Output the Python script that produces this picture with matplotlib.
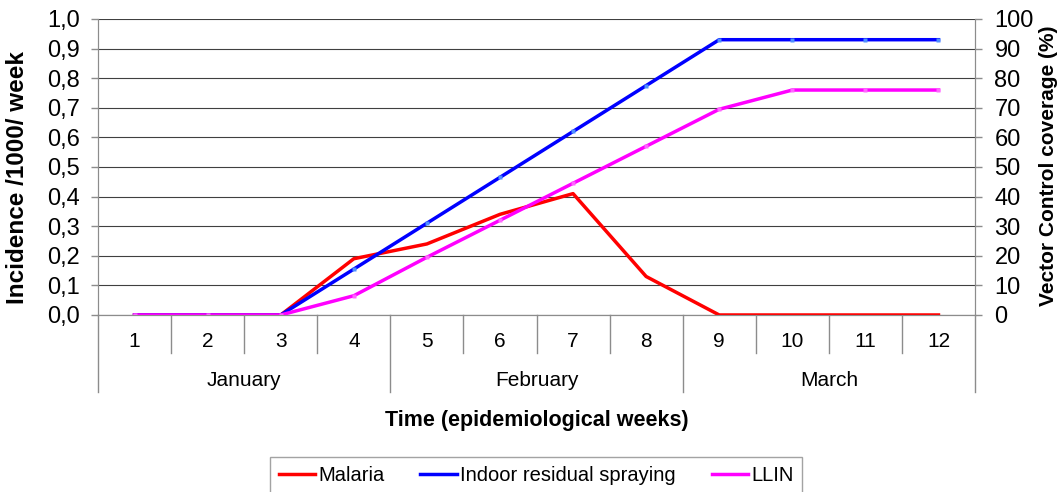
import matplotlib
matplotlib.use("Agg")
import matplotlib.pyplot as plt
from matplotlib.ticker import FuncFormatter, MultipleLocator

plt.rcParams['font.family'] = ['Liberation Sans', 'DejaVu Sans']

weeks = [1, 2, 3, 4, 5, 6, 7, 8, 9, 10, 11, 12]
week_labels = [str(w) for w in weeks]
months = ['January', 'February', 'March']
month_centers = [2.5, 6.5, 10.5]
month_edges = [0.5, 4.5, 8.5, 12.5]

malaria = [0, 0, 0, 0.19, 0.24, 0.34, 0.41, 0.13, 0, 0, 0, 0]          # incidence /1000/week
irs = [0, 0, 0, 15.5, 31, 46.5, 62, 77.5, 93, 93, 93, 93]              # coverage %
llin = [0, 0, 0, 6.5, 19.5, 32, 44.5, 57, 69.5, 76, 76, 76]            # coverage %

fig = plt.figure(figsize=(10.62, 4.92), dpi=100)
ax = fig.add_axes([0.0923, 0.3598, 0.8258, 0.6016])
ax2 = ax.twinx()

gray = '#8c8c8c'

ax.set_xlim(0.5, 12.5)
ax.set_ylim(0, 1.0)
ax2.set_ylim(0, 100)
ax.yaxis.set_major_locator(MultipleLocator(0.1))
ax2.yaxis.set_major_locator(MultipleLocator(10))
ax.yaxis.set_major_formatter(FuncFormatter(lambda v, p: ('%.1f' % v).replace('.', ',')))

ax.grid(axis='y', color='#404040', linewidth=0.8)
ax.set_axisbelow(True)
ax.yaxis.get_gridlines()[-1].set_visible(False)

for a in (ax, ax2):
    a.spines['top'].set_visible(False)
    for s in ('left', 'right', 'bottom'):
        a.spines[s].set_color(gray)
    a.set_xticks([])
ax.tick_params(axis='y', colors=gray, labelcolor='black', labelsize=17, length=5, width=1, pad=8)
ax2.tick_params(axis='y', colors=gray, labelcolor='black', labelsize=17, length=5, width=1, pad=9)

# line series
ax.plot(weeks, malaria, color='#ff0000', linewidth=2.5, zorder=5)
ax2.plot(weeks, irs, color='#0000ff', linewidth=2.5,
         marker='s', markersize=3, markerfacecolor='#4f8fff', markeredgecolor='none')
ax2.plot(weeks, llin, color='#ff00ff', linewidth=2.5,
         marker='s', markersize=2.5, markerfacecolor='#ff66ff', markeredgecolor='none')

# hierarchical category axis
trans = ax.get_xaxis_transform()
for i in range(len(weeks) + 1):
    x = 0.5 + i
    bottom = -0.26 if x in month_edges else -0.128
    ax.plot([x, x], [0, bottom], transform=trans, color=gray, linewidth=1, clip_on=False)
for w, lab in zip(weeks, week_labels):
    ax.text(w, -0.09, lab, transform=trans, ha='center', va='center', fontsize=15)
for c, m in zip(month_centers, months):
    ax.text(c, -0.222, m, transform=trans, ha='center', va='center', fontsize=15)

ax.text(6.5, -0.355, 'Time (epidemiological weeks)', transform=trans,
        ha='center', va='center', fontsize=15.5, fontweight='bold')
fig.text(18 / 1062, 1 - 178 / 492, 'Incidence /1000/ week', rotation=90,
         ha='center', va='center', fontsize=17.5, fontweight='bold')
fig.text(1049 / 1062, 1 - 166 / 492, 'Vector Control coverage (%)', rotation=90,
         ha='center', va='center', fontsize=15, fontweight='bold')

handles = [plt.Line2D([], [], color='#ff0000', linewidth=2.5),
           plt.Line2D([], [], color='#0000ff', linewidth=2.5),
           plt.Line2D([], [], color='#ff00ff', linewidth=2.5)]
leg = fig.legend(handles, ['Malaria', 'Indoor residual spraying', 'LLIN'],
                 loc='upper center', bbox_to_anchor=(0.5047, 0.0711), ncol=3,
                 fontsize=14.5, frameon=True, fancybox=False, edgecolor=gray,
                 handlelength=1.8, handletextpad=0.15, columnspacing=1.8,
                 borderpad=0.45, borderaxespad=0)
leg.get_frame().set_linewidth(1)

fig.savefig('out.png', dpi=100)
